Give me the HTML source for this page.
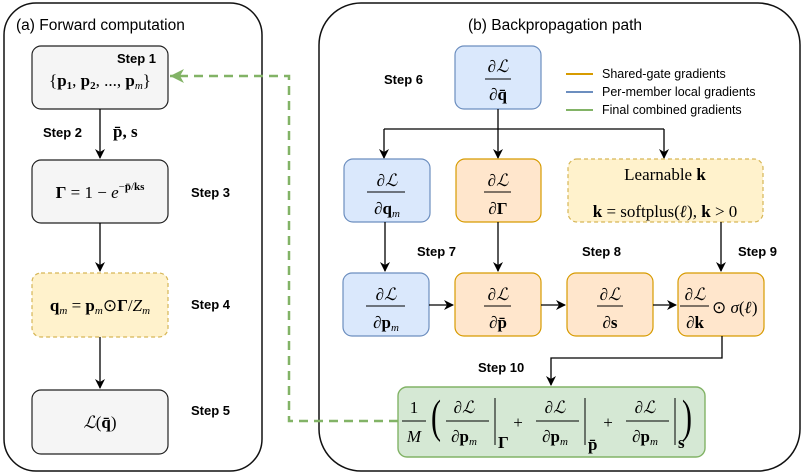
<!DOCTYPE html>
<html><head><meta charset="utf-8"><style>
body{margin:0;background:#fff}
svg{display:block}
.s{font-family:"Liberation Sans",sans-serif;font-weight:bold;font-size:13px;fill:#000}
.t{font-family:"Liberation Sans",sans-serif;font-size:15.5px;fill:#000}
.l{font-family:"Liberation Sans",sans-serif;font-size:12.5px;fill:#000}
.m{font-family:"Liberation Serif",serif;font-size:17px;fill:#000}
.b{font-weight:bold}
.i{font-style:italic}
</style></head><body>
<svg width="809" height="475" viewBox="0 0 809 475" xmlns="http://www.w3.org/2000/svg">
<defs><marker id="a" markerWidth="10" markerHeight="10" refX="9" refY="5" orient="auto" markerUnits="userSpaceOnUse"><path d="M0,0 L10,5 L0,10 L3,5 z" fill="#000"/></marker>
<marker id="g" markerWidth="16" markerHeight="16" refX="14" refY="7" orient="auto" markerUnits="userSpaceOnUse"><path d="M0,0 L14,7 L0,14 L4,7 z" fill="#82b366"/></marker></defs>

<!-- panels -->
<rect x="4" y="3" width="258" height="468" rx="32" fill="none" stroke="#111" stroke-width="1.5"/>
<text x="16" y="30" class="t">(a) Forward computation</text>
<rect x="319" y="3" width="481" height="468" rx="42" fill="none" stroke="#111" stroke-width="1.5"/>
<text x="468" y="30" class="t">(b) Backpropagation path</text>

<!-- left boxes -->
<rect x="32" y="46" width="136" height="63" rx="9" fill="#f5f5f5" stroke="#222" stroke-width="1.2"/>
<text x="117" y="63" class="s">Step 1</text>
<text x="100" y="86" class="m" text-anchor="middle">{<tspan class="b">p</tspan><tspan font-size="11" class="b" dy="3">1</tspan><tspan dy="-3">, </tspan><tspan class="b">p</tspan><tspan font-size="11" class="b" dy="3">2</tspan><tspan dy="-3">, ..., </tspan><tspan class="b">p</tspan><tspan font-size="11" class="i" dy="3">m</tspan><tspan dy="-3">}</tspan></text>
<line x1="100" y1="109" x2="100" y2="158" stroke="#000" stroke-width="1.3" marker-end="url(#a)"/>
<text x="43" y="137" class="s">Step 2</text>
<text x="113" y="137" class="m b">p̄, s</text>

<rect x="32" y="160" width="136" height="63" rx="9" fill="#f5f5f5" stroke="#222" stroke-width="1.2"/>
<text x="100" y="198" class="m" text-anchor="middle"><tspan class="b">Γ</tspan> = 1 − <tspan class="i">e</tspan><tspan font-size="11" dy="-8">−<tspan class="b">p̄</tspan>/<tspan class="b">ks</tspan></tspan></text>
<text x="191" y="197" class="s">Step 3</text>
<line x1="100" y1="223" x2="100" y2="271" stroke="#000" stroke-width="1.3" marker-end="url(#a)"/>

<rect x="32" y="273" width="136" height="64" rx="9" fill="#fff2cc" stroke="#d6b656" stroke-width="1.2" stroke-dasharray="4,3"/>
<text x="100" y="311" class="m" text-anchor="middle"><tspan class="b">q</tspan><tspan font-size="11" class="i" dy="3">m</tspan><tspan dy="-3"> = </tspan><tspan class="b">p</tspan><tspan font-size="11" class="i" dy="3">m</tspan><tspan dy="-3">⊙</tspan><tspan class="b">Γ</tspan>/<tspan class="i">Z</tspan><tspan font-size="11" class="i" dy="3">m</tspan></text>
<text x="191" y="309" class="s">Step 4</text>
<line x1="100" y1="337" x2="100" y2="388" stroke="#000" stroke-width="1.3" marker-end="url(#a)"/>

<rect x="32" y="390" width="136" height="64" rx="9" fill="#f5f5f5" stroke="#222" stroke-width="1.2"/>
<text x="100" y="428" class="m" text-anchor="middle"><tspan class="i">ℒ</tspan>(<tspan class="b">q̄</tspan>)</text>
<text x="191" y="415" class="s">Step 5</text>

<!-- green dashed -->
<polyline points="398,421 289,421 289,76 170,76" fill="none" stroke="#82b366" stroke-width="2.5" stroke-dasharray="9,6" marker-end="url(#g)"/>

<!-- right top -->
<rect x="455" y="46" width="86" height="63" rx="9" fill="#dae8fc" stroke="#6c8ebf" stroke-width="1.2"/>
<g class="m" text-anchor="middle"><text x="498" y="72">∂<tspan class="i">ℒ</tspan></text><text x="498" y="100">∂<tspan class="b">q̄</tspan></text></g>
<line x1="485" y1="79" x2="511" y2="79" stroke="#000"/>
<text x="384" y="84" class="s">Step 6</text>

<line x1="566" y1="74" x2="593" y2="74" stroke="#d79b00" stroke-width="2"/>
<line x1="566" y1="92" x2="593" y2="92" stroke="#6c8ebf" stroke-width="2"/>
<line x1="566" y1="110" x2="593" y2="110" stroke="#82b366" stroke-width="2"/>
<text x="602" y="78" class="l">Shared-gate gradients</text>
<text x="602" y="96" class="l">Per-member local gradients</text>
<text x="602" y="114" class="l">Final combined gradients</text>

<polyline points="498,109 498,129" fill="none" stroke="#000" stroke-width="1.3"/>
<polyline points="384,129 664,129" fill="none" stroke="#000" stroke-width="1.3"/>
<line x1="384" y1="129" x2="384" y2="158" stroke="#000" stroke-width="1.3" marker-end="url(#a)"/>
<line x1="498" y1="129" x2="498" y2="158" stroke="#000" stroke-width="1.3" marker-end="url(#a)"/>
<line x1="664" y1="129" x2="664" y2="158" stroke="#000" stroke-width="1.3" marker-end="url(#a)"/>

<!-- row 2 -->
<rect x="344" y="159" width="86" height="63" rx="9" fill="#dae8fc" stroke="#6c8ebf" stroke-width="1.2"/>
<g class="m" text-anchor="middle"><text x="387" y="186">∂<tspan class="i">ℒ</tspan></text><text x="387" y="214">∂<tspan class="b">q</tspan><tspan font-size="11" class="i" dy="3">m</tspan></text></g>
<line x1="367" y1="192" x2="405" y2="192" stroke="#000"/>
<rect x="456" y="159" width="85" height="63" rx="9" fill="#ffe6cc" stroke="#d79b00" stroke-width="1.2"/>
<g class="m" text-anchor="middle"><text x="498" y="186">∂<tspan class="i">ℒ</tspan></text><text x="498" y="214">∂<tspan class="b">Γ</tspan></text></g>
<line x1="484" y1="192" x2="511" y2="192" stroke="#000"/>
<rect x="568" y="159" width="195" height="63" rx="9" fill="#fff2cc" stroke="#d6b656" stroke-width="1.2" stroke-dasharray="4,3"/>
<text x="665" y="180" class="m" text-anchor="middle">Learnable <tspan class="b">k</tspan></text>
<text x="665" y="217" class="m" text-anchor="middle"><tspan class="b">k</tspan> = softplus(<tspan class="b i">ℓ</tspan>), <tspan class="b">k</tspan> &gt; 0</text>

<line x1="385" y1="222" x2="385" y2="271" stroke="#000" stroke-width="1.3" marker-end="url(#a)"/>
<line x1="498" y1="222" x2="498" y2="271" stroke="#000" stroke-width="1.3" marker-end="url(#a)"/>
<line x1="721" y1="222" x2="721" y2="271" stroke="#000" stroke-width="1.3" marker-end="url(#a)"/>
<text x="417" y="256" class="s">Step 7</text>
<text x="582" y="256" class="s">Step 8</text>
<text x="738" y="256" class="s">Step 9</text>

<!-- row 3 -->
<rect x="343" y="273" width="86" height="63" rx="9" fill="#dae8fc" stroke="#6c8ebf" stroke-width="1.2"/>
<g class="m" text-anchor="middle"><text x="386" y="300">∂<tspan class="i">ℒ</tspan></text><text x="386" y="328">∂<tspan class="b">p</tspan><tspan font-size="11" class="i" dy="3">m</tspan></text></g>
<line x1="366" y1="306" x2="405" y2="306" stroke="#000"/>
<rect x="455" y="273" width="86" height="63" rx="9" fill="#ffe6cc" stroke="#d79b00" stroke-width="1.2"/>
<g class="m" text-anchor="middle"><text x="498" y="300">∂<tspan class="i">ℒ</tspan></text><text x="498" y="328">∂<tspan class="b">p̄</tspan></text></g>
<line x1="484" y1="306" x2="511" y2="306" stroke="#000"/>
<rect x="567" y="273" width="86" height="63" rx="9" fill="#ffe6cc" stroke="#d79b00" stroke-width="1.2"/>
<g class="m" text-anchor="middle"><text x="610" y="300">∂<tspan class="i">ℒ</tspan></text><text x="610" y="328">∂<tspan class="b">s</tspan></text></g>
<line x1="597" y1="306" x2="623" y2="306" stroke="#000"/>
<rect x="678" y="273" width="86" height="63" rx="9" fill="#ffe6cc" stroke="#d79b00" stroke-width="1.2"/>
<g class="m" text-anchor="middle"><text x="695" y="300">∂<tspan class="i">ℒ</tspan></text><text x="695" y="328">∂<tspan class="b">k</tspan></text></g>
<line x1="680" y1="306" x2="709" y2="306" stroke="#000"/>
<text x="712" y="313" class="m">⊙ <tspan class="i">σ</tspan>(<tspan class="b i">ℓ</tspan>)</text>

<line x1="429" y1="305" x2="453" y2="305" stroke="#000" stroke-width="1.3" marker-end="url(#a)"/>
<line x1="541" y1="305" x2="565" y2="305" stroke="#000" stroke-width="1.3" marker-end="url(#a)"/>
<line x1="653" y1="305" x2="676" y2="305" stroke="#000" stroke-width="1.3" marker-end="url(#a)"/>

<polyline points="722,336 722,358 551,358 551,385" fill="none" stroke="#000" stroke-width="1.3" marker-end="url(#a)"/>
<text x="478" y="372" class="s">Step 10</text>

<!-- green box -->
<rect x="398" y="387" width="307" height="70" rx="9" fill="#d5e8d4" stroke="#82b366" stroke-width="1.4"/>
<g class="m" text-anchor="middle">
<text x="414" y="413">1</text><text x="414" y="442" class="i">M</text>
<text x="464" y="413">∂<tspan class="i">ℒ</tspan></text><text x="464" y="442">∂<tspan class="b">p</tspan><tspan font-size="11" class="i" dy="3">m</tspan></text>
<text x="555" y="413">∂<tspan class="i">ℒ</tspan></text><text x="555" y="442">∂<tspan class="b">p</tspan><tspan font-size="11" class="i" dy="3">m</tspan></text>
<text x="645" y="413">∂<tspan class="i">ℒ</tspan></text><text x="645" y="442">∂<tspan class="b">p</tspan><tspan font-size="11" class="i" dy="3">m</tspan></text>
<text x="518" y="428">+</text><text x="608" y="428">+</text>
</g>
<text x="0" y="0" font-family="Liberation Serif,serif" font-size="30" transform="translate(431,432) scale(1,1.55)">(</text>
<text x="0" y="0" font-family="Liberation Serif,serif" font-size="30" transform="translate(682,432) scale(1,1.55)">)</text>
<g stroke="#000"><line x1="402" y1="421" x2="426" y2="421"/><line x1="446" y1="421" x2="489" y2="421"/><line x1="536" y1="421" x2="579" y2="421"/><line x1="626" y1="421" x2="669" y2="421"/>
<line x1="495" y1="398" x2="495" y2="445"/><line x1="585" y1="398" x2="585" y2="445"/><line x1="675" y1="398" x2="675" y2="445"/></g>
<g class="m b" font-size="11"><text x="498" y="448">Γ</text><text x="588" y="450">p̄</text><text x="678" y="448">s</text></g>
</svg>
</body></html>
